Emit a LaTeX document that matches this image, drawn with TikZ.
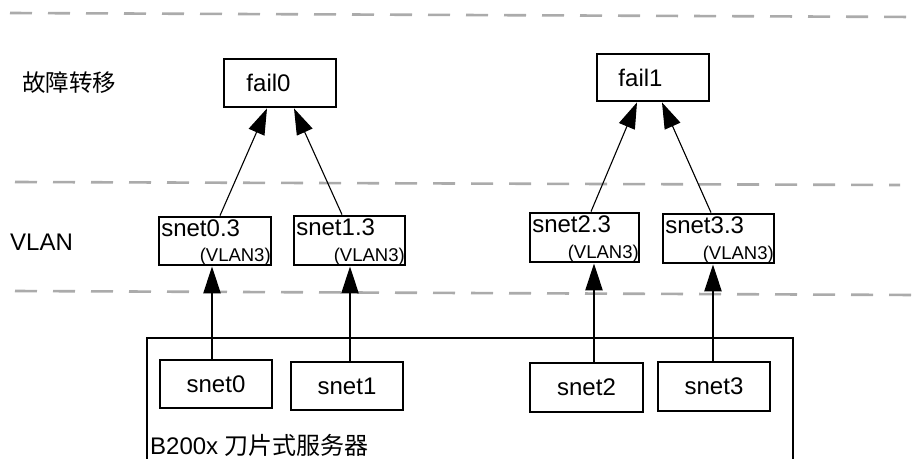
\documentclass[tikz,border=0pt]{standalone}
\usepackage{fontspec}
\setmainfont{Liberation Sans}
\newfontfamily\cjk{Noto Sans CJK SC}
\usetikzlibrary{arrows.meta,calc}
\begin{document}
\begin{tikzpicture}[x=1pt,y=-1pt,
  box/.style={draw,line width=2.8pt,inner sep=0pt,minimum width=112pt,minimum height=48pt,
    font=\fontsize{24}{28}\selectfont},
  lbl/.style={inner sep=0pt,font=\fontsize{24}{28}\selectfont},
  sub/.style={inner sep=0pt,font=\fontsize{18.5}{22}\selectfont},
  sep/.style={draw=black!33,line width=2.6pt,dash pattern=on 22pt off 16pt},
  up/.style={line width=2.4pt,-{Triangle[length=27pt,width=17pt]}},
  diag/.style={line width=1.1pt,-{Triangle[length=26pt,width=17pt]}}]
\useasboundingbox (0,0) rectangle (915,458);
% layer separators
\draw[sep] (10,13) -- (915,17);
\draw[sep] (15,182) -- (900,185);
\draw[sep] (15,291) -- (915,295);
% layer labels
\node[lbl,anchor=west] (lfail) at (22,83) {\cjk\fontsize{23.5}{28}\selectfont 故障转移};
\node[lbl,anchor=west] (lvlan) at (10,242) {VLAN};
% failover boxes
\node[box] (f0) at (280,83) {fail0\kern23pt};
\node[box,minimum height=47pt] (f1) at (653,77.5) {fail1\kern25pt};
% VLAN boxes
\node[box] (s03) at (215,241) {};
\node[box,minimum width=111pt,minimum height=49pt] (s13) at (349.5,240.5) {};
\node[box,minimum width=109pt,minimum height=49pt] (s23) at (584.5,237.5) {};
\node[box,minimum width=111pt,minimum height=49pt] (s33) at (718.5,238.5) {};
\foreach \n/\t in {s03/snet0.3,s13/snet1.3,s23/snet2.3,s33/snet3.3}{
  \node[lbl,anchor=base west] (\n a) at ($(\n.north west)+(3.5,20.5)$) {\t};
  \node[sub,anchor=base east] (\n b) at ($(\n.south east)+(-1.5,-5)$) {(VLAN3)};
}
% blade server
\draw[line width=2.8pt] (147,470) -- (147,338) -- (793,338) -- (793,470);
\node[lbl,anchor=base west] (blade) at (150,454) {B200x {\cjk 刀片式服务器}};
\node[box] (s0) at (216,384) {snet0};
\node[box] (s1) at (347,386) {snet1};
\node[box,minimum width=113pt,minimum height=49pt] (s2) at (586.5,387.5) {snet2};
\node[box,minimum height=49pt] (s3) at (714,386.5) {snet3};
% connectors
\draw[up] ($(s0.north)+(-4,0)$) -- ($(s03.south)+(-3,0)$);
\draw[up] ($(s1.north)+(3,0)$) -- ($(s13.south)+(0.5,0)$);
\draw[up] ($(s2.north)+(7.5,0)$) -- ($(s23.south)+(9.5,0)$);
\draw[up] ($(s3.north)+(-1,0)$) -- ($(s33.south)+(-5.5,0)$);
\draw[diag] ($(s03.north)+(5,0)$) -- ($(f0.south)+(-13,0)$);
\draw[diag] ($(s13.north)+(-7.5,0)$) -- ($(f0.south)+(14,0)$);
\draw[diag] ($(s23.north)+(6.5,0)$) -- ($(f1.south)+(-16,0)$);
\draw[diag] ($(s33.north)+(-7.5,0)$) -- ($(f1.south)+(9,0)$);
\end{tikzpicture}
\end{document}
